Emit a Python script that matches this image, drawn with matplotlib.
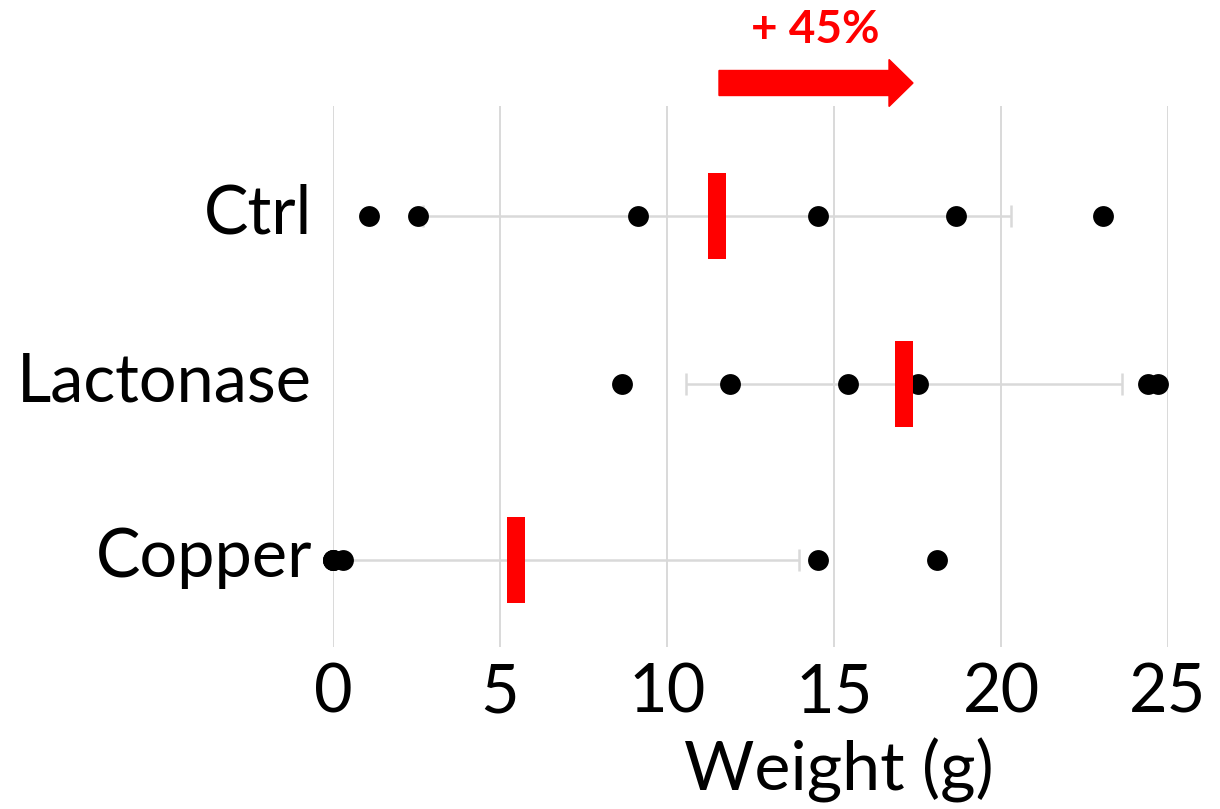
import numpy as np
import matplotlib
matplotlib.use("Agg")
import matplotlib.pyplot as plt
import matplotlib.transforms as mtransforms
from matplotlib.patches import FancyArrow

# weights per group (g)
groups = ["Ctrl", "Lactonase", "Copper"]
ctrl = [1.08, 2.54, 9.13, 14.52, 18.65, 23.05]
lactonase = [8.65, 11.89, 15.42, 17.5, 24.4, 24.7]
copper = [0.0, 0.0, 0.0, 0.3, 14.52, 18.09]
row_y = [2.46, 1.5, 0.5]
xticks = [0, 5, 10, 15, 20, 25]
gain_label = "+ 45%"

data = [ctrl, lactonase, copper]
means = [np.mean(d) for d in data]
sds = [np.std(d, ddof=1) for d in data]

plt.rcParams["font.family"] = ["Lato", "DejaVu Sans"]

fig = plt.figure(figsize=(12.2, 8.09), dpi=100)
ax = fig.add_axes([0.273, 0.2002, 0.6844, 0.6687])

grey = "#d9d9d9"
# error bars (mean +/- SD)
ax.errorbar(means, row_y, xerr=sds, fmt="none", ecolor=grey, elinewidth=1.8,
            capsize=8, capthick=1.8, zorder=2)

# individual points
for d, y in zip(data, row_y):
    ax.plot(d, [y] * len(d), "o", color="black", ms=15, mew=0, zorder=3, clip_on=False)

# mean markers (red bars)
bar = [(-1, -4.6), (1, -4.6), (1, 4.6), (-1, 4.6), (-1, -4.6)]
ax.plot(means, row_y, linestyle="none", marker=bar, ms=62.6, mew=0,
        color="red", zorder=4, clip_on=False)

ax.set_xlim(0, 25)
ax.set_ylim(0, 3.09)
ax.set_xticks(xticks)
ax.set_yticks(row_y)
ax.set_yticklabels(groups)
ax.grid(axis="x", color=grey, linewidth=1.4)
ax.set_axisbelow(True)
for s in ax.spines.values():
    s.set_visible(False)
ax.tick_params(axis="both", length=0, labelsize=48)
ax.tick_params(axis="x", pad=11)
ax.tick_params(axis="y", pad=15)

# nudge the group names up a little
shift = mtransforms.ScaledTranslation(0, 0.08, fig.dpi_scale_trans)
for lbl in ax.get_yticklabels():
    lbl.set_transform(lbl.get_transform() + shift)

fig.text(839 / 1220, 1 - 770 / 809, "Weight (g)", fontsize=49, ha="center", va="center")

# "+45%" arrow above the chart
arr = FancyArrow(7.19, 7.26, 1.94, 0, width=0.25, head_width=0.47, head_length=0.24,
                 length_includes_head=True, color="red", transform=fig.dpi_scale_trans)
fig.patches.append(arr)
fig.text(815 / 1220, 1 - 30 / 809, gain_label, fontsize=33, fontweight="bold",
         color="red", ha="center", va="center")

fig.savefig("out.png", dpi=100)
